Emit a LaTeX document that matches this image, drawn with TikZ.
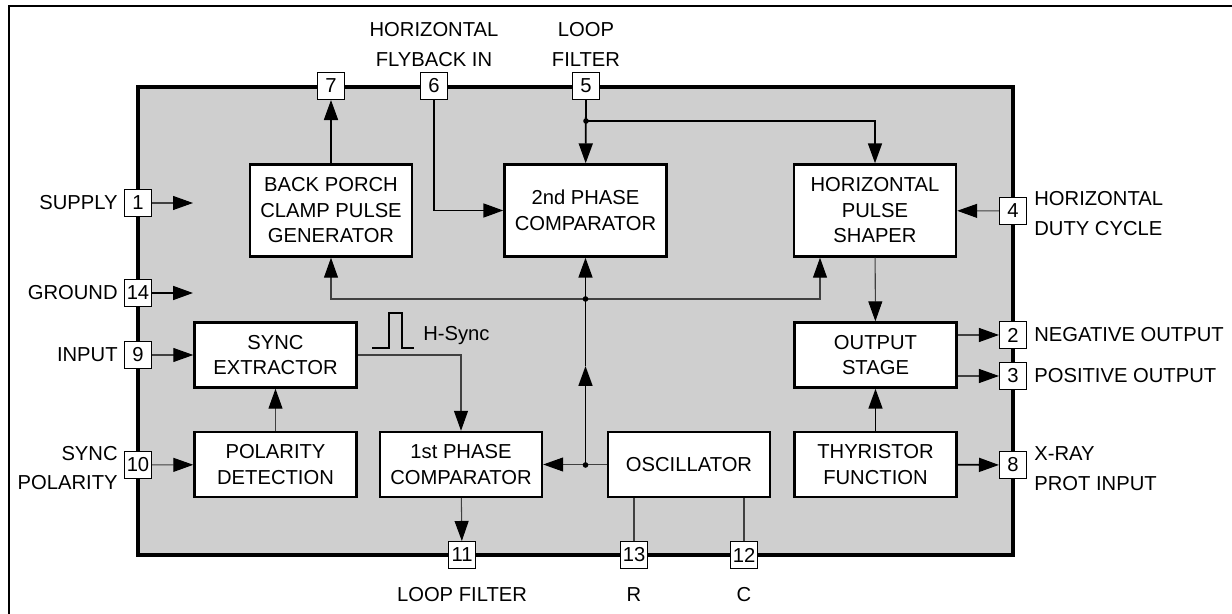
\documentclass[tikz,border=0pt]{standalone}
\usepackage{fontspec}
\setmainfont{Liberation Sans}
\usetikzlibrary{arrows.meta,positioning}

\begin{document}
\begin{tikzpicture}[x=0.02cm,y=-0.02cm,
	every node/.style={font=\fontsize{11.5}{14.5}\selectfont},
	block/.style={draw,line width=1.4pt,fill=white,align=center,minimum width=3.24cm,inner sep=0pt},
	tall/.style={block,minimum height=1.84cm},
	short/.style={block,minimum height=1.3cm},
	pin/.style={draw,line width=0.6pt,fill=white,minimum size=0.54cm,inner sep=0pt},
	lbl/.style={inner sep=0pt,align=center,font=\fontsize{11.5}{17}\selectfont},
	wire/.style={line width=1pt},
	thinwire/.style={line width=0.6pt,black!75},
	flow/.style={-{Triangle[length=0.4cm,width=0.28cm,color=black]}}]
				\useasboundingbox (0,0) rectangle (1232,614);
				\draw[line width=1.2pt] (9,614) -- (9,6) -- (1232,6);
				\draw[line width=1.8pt,fill=black!19] (138,87) rectangle (1013,555);

				\node[tall] (bpc) at (331,210.5) {BACK PORCH\\CLAMP PULSE\\GENERATOR};
				\node[tall] (pc2) at (585.5,210.5) {2nd PHASE\\COMPARATOR};
				\node[tall] (hps) at (875,210.5) {HORIZONTAL\\PULSE\\SHAPER};
				\node[short] (sync) at (275.5,355) {SYNC\\EXTRACTOR};
				\node[short] (pol) at (275.5,464.5) {POLARITY\\DETECTION};
				\node[short] (pc1) at (461,464.5) {1st PHASE\\COMPARATOR};
				\node[short] (osc) at (689,464.5) {OSCILLATOR};
				\node[short] (outs) at (875.5,355) {OUTPUT\\STAGE};
				\node[short] (thy) at (875.5,464.5) {THYRISTOR\\FUNCTION};

				\node[pin] (p7) at (331,86) {7};
				\node[pin] (p6) at (434,86) {6};
				\node[pin] (p5) at (586,86) {5};
				\node[pin] (p1) at (138,203) {1};
				\node[pin] (p14) at (138,293) {14};
				\node[pin] (p9) at (138,355) {9};
				\node[pin] (p10) at (138,465) {10};
				\node[pin] (p4) at (1013,211) {4};
				\node[pin] (p2) at (1013,335) {2};
				\node[pin] (p3) at (1013,376) {3};
				\node[pin] (p8) at (1013,465) {8};
				\node[pin] (p11) at (462,555) {11};
				\node[pin] (p13) at (634,555) {13};
				\node[pin] (p12) at (744,555) {12};

				\node[lbl] (lfly) at (434,44.5) {HORIZONTAL\\FLYBACK IN};
				\node[lbl] (lloop) at (586,44.5) {LOOP\\FILTER};
				\node[lbl,anchor=east] (lsup) at (118,203) {SUPPLY};
				\node[lbl,anchor=east] (lgnd) at (118,293) {GROUND};
				\node[lbl,anchor=east] (lin) at (118,355) {INPUT};
				\node[lbl,anchor=east,align=right] (lpol) at (118,468) {SYNC\\POLARITY};
				\node[lbl,anchor=west,align=left] (lduty) at (1034,213.5) {HORIZONTAL\\DUTY CYCLE};
				\node[lbl,anchor=west] (lneg) at (1034,335) {NEGATIVE OUTPUT};
				\node[lbl,anchor=west] (lpos) at (1034,376) {POSITIVE OUTPUT};
				\node[lbl,anchor=west,align=left] (lxray) at (1034,468.5) {X-RAY\\PROT INPUT};
				\node[lbl] (lfilt) at (462,595) {LOOP FILTER};
				\node[lbl] (lr) at (634,595) {R};
				\node[lbl] (lc) at (744,595) {C};

				\coordinate (s1) at (193,203);
				\coordinate (s14) at (193,293);
				\coordinate (j5) at (586,121);
				\coordinate (jo) at (585.5,465);
				\coordinate (jm) at (585.5,366);
				\coordinate (jb) at (585.5,299);

				\draw[thinwire,flow] (p1) -- (s1);
				\draw[wire,flow] (p14) -- (s14);
				\draw[thinwire,flow] (p9) -- (sync);
				\draw[thinwire,flow] (p10) -- (pol);
				\draw[thinwire,flow] (pol) -- (sync);
				\draw[thinwire,flow] (sync) -| (pc1);
				\draw[thinwire,flow] (pc1) -- (p11);
				\draw[thinwire] (osc.south -| p13) -- (p13);
				\draw[thinwire] (osc.south -| p12) -- (p12);
				\draw[thinwire,flow] (osc) -- (pc1);
				\draw[wire,flow] (jo) -- (jm);
				\draw[wire,flow] (jm) -- (pc2);
				\draw[thinwire,flow] (jb) -| (bpc);
				\draw[thinwire,flow] (jb) -| ([xshift=-1.1cm]hps.south);
				\draw[wire,flow] (bpc) -- (p7);
				\draw[wire,flow] (p6) |- (pc2);
				\draw[wire,flow] (p5) -- (pc2);
				\draw[wire,flow] (j5) -| (hps);
				\draw[thinwire,flow] (p4) -- (hps);
				\draw[thinwire,flow] (hps) -- (outs);
				\draw[thinwire,flow] (outs.east |- p2) -- (p2);
				\draw[thinwire,flow] (outs.east |- p3) -- (p3);
				\draw[wire,flow] (thy) -- (outs);
				\draw[wire,flow] (thy) -- (p8);
				\fill (j5) circle[radius=1.6pt];
				\fill (jo) circle[radius=1.6pt];
				\fill (jb) circle[radius=1.6pt];

				\draw[line width=1.2pt] (372,348) -- (389,348) -- (389,313) -- (402,313) -- (402,348) -- (414,348);
				\node[anchor=west,inner sep=0pt] (hsync) at (423,336) {H-Sync};
\end{tikzpicture}
\end{document}
